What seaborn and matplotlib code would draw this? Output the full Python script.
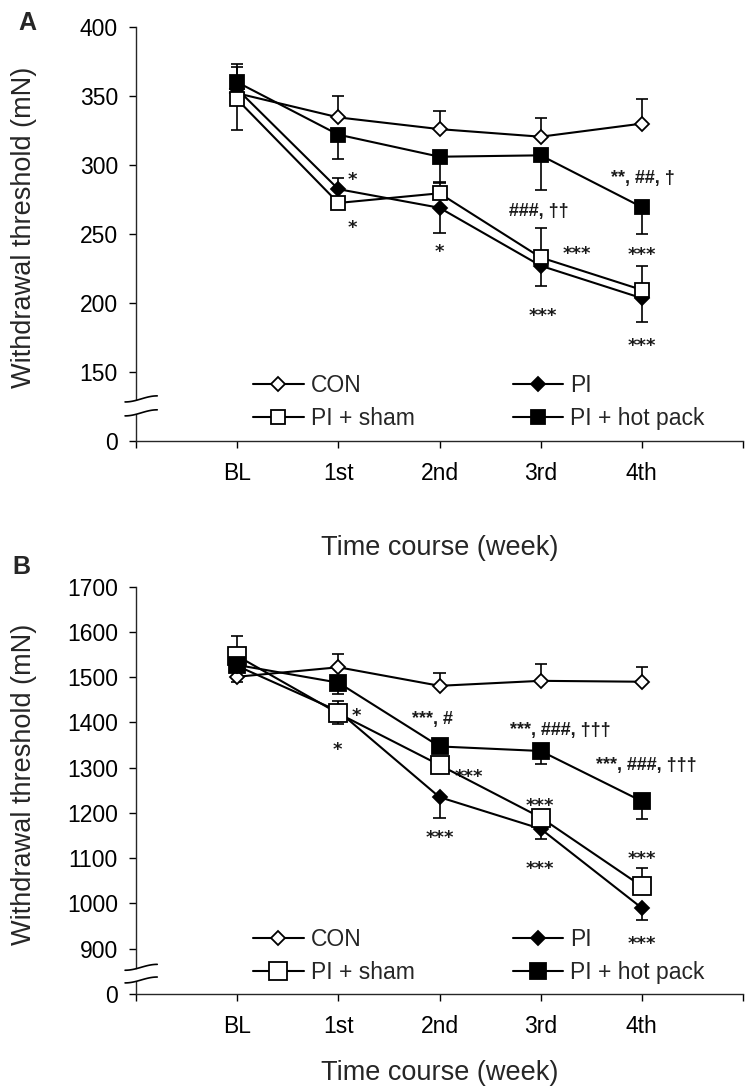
import numpy as np
import matplotlib
matplotlib.use("Agg")
import matplotlib.pyplot as plt
import matplotlib.transforms as mtransforms
import seaborn as sns

# ---------------- data ----------------
weeks = ["BL", "1st", "2nd", "3rd", "4th"]
groups = ["CON", "PI", "PI + sham", "PI + hot pack"]

# Panel A (mN)
a_con = [352, 334.5, 326, 320.5, 330]
a_pi = [355, 282.5, 269, 227, 203.5]
a_sham = [347.5, 272.5, 279.5, 233, 209.5]
a_hot = [360, 322, 306, 307, 269.5]
a_con_lo = [0, 0, 0, 0, 0]
a_con_up = [0, 15.5, 13, 13.5, 18]
a_pi_lo = [0, 0, 18, 14.5, 17]
a_pi_up = [16, 8, 0, 0, 0]
a_sham_lo = [22.5, 0, 0, 0, 0]
a_sham_up = [0, 0, 8, 21, 17.5]
a_hot_lo = [0, 17.5, 19, 25, 19.5]
a_hot_up = [13.5, 0, 0, 0, 0]
a_yticks = [150, 200, 250, 300, 350, 400]
a_ann_text = ["*", "*", "*", "###, \u2020\u2020", "***", "***", "**, ##, \u2020", "***", "***"]
a_ann_x = [2.14, 2.14, 3.0, 3.98, 4.36, 4.02, 5.01, 5.0, 5.0]
a_ann_y = [291.5, 256.6, 239, 267.5, 237.5, 193, 291.7, 237, 171]

# Panel B (mN)
b_con = [1501, 1522, 1481, 1492, 1490]
b_pi = [1525, 1425, 1235, 1165, 990]
b_sham = [1547, 1420, 1306, 1190, 1038]
b_hot = [1527, 1488, 1347, 1337, 1226]
b_con_lo = [11, 0, 0, 0, 0]
b_con_up = [0, 29, 29, 37, 33]
b_pi_lo = [0, 29, 45, 23.5, 26]
b_pi_up = [0, 0, 0, 0, 0]
b_sham_lo = [0, 0, 0, 0, 0]
b_sham_up = [44, 27, 0, 0, 40]
b_hot_lo = [0, 26, 0, 29, 40]
b_hot_up = [0, 0, 0, 0, 0]
b_yticks = [900, 1000, 1100, 1200, 1300, 1400, 1500, 1600, 1700]
b_ann_text = ["*", "*", "***, #", "***, ###, \u2020\u2020\u2020", "***, ###, \u2020\u2020\u2020",
              "***", "***", "***", "***", "***", "***"]
b_ann_x = [2.18, 1.99, 2.93, 4.19, 5.04, 3.29, 3.0, 3.99, 3.99, 5.0, 5.0]
b_ann_y = [1420, 1346, 1412, 1387, 1309, 1287, 1152, 1221, 1082, 1105, 918]

# ---------------- style ----------------
sns.set_style("ticks")
plt.rcParams["font.family"] = ["Liberation Sans", "DejaVu Sans"]
plt.rcParams["axes.linewidth"] = 1.0

TICK_FS = 16.5
LABEL_FS = 19.5
LEG_FS = 16.5
ANN_FS = 13

fig = plt.figure(figsize=(7.45, 10.89), dpi=100)
W, H = 745, 1089


def add_axes(top_px, bottom_px):
    left, right = 136, 743
    return fig.add_axes([left / W, 1 - bottom_px / H, (right - left) / W, (bottom_px - top_px) / H])


axA = add_axes(27, 441)
axB = add_axes(586.7, 994)

xpos = np.arange(1, len(weeks) + 1)

styles = {
    "CON": dict(marker="D", mfc="white"),
    "PI": dict(marker="D", mfc="black"),
    "PI + sham": dict(marker="s", mfc="white"),
    "PI + hot pack": dict(marker="s", mfc="black"),
}


def draw_err(ax, y, lo, up, capw=0.06):
    y = np.asarray(y, float)
    for sign, e in ((-1, np.asarray(lo, float)), (1, np.asarray(up, float))):
        m = e > 0
        if not m.any():
            continue
        ends = y[m] + sign * e[m]
        ax.vlines(xpos[m], y[m], ends, color="black", lw=1.2, zorder=2)
        ax.hlines(ends, xpos[m] - capw, xpos[m] + capw, color="black", lw=1.2, zorder=2)


def panel(ax, series, errs, sizes, yticks, zero_pos, ylim, brk, ann, xlabel_y):
    for g, vals, (lo, up) in zip(groups, series, errs):
        draw_err(ax, vals, lo, up)
    for i, (g, vals) in enumerate(zip(groups, series)):
        st = styles[g]
        sns.lineplot(x=xpos, y=vals, ax=ax, color="black", lw=1.5,
                     marker=st["marker"], markersize=sizes[g], markerfacecolor=st["mfc"],
                     markeredgecolor="black", markeredgewidth=1.3, label=g,
                     zorder=3 + i)
    ax.set_xlim(0, 6)
    ax.set_ylim(*ylim)
    ax.set_xticks(np.arange(0, 7))
    ax.set_xticklabels([""] + weeks + [""])
    ax.set_yticks([zero_pos] + yticks)
    ax.set_yticklabels(["0"] + [str(t) for t in yticks])
    ax.tick_params(axis="both", direction="out", length=5, width=1.0, labelsize=TICK_FS,
                   colors="black")
    ax.tick_params(axis="x", pad=10)
    ax.tick_params(axis="y", pad=8)
    sns.despine(ax=ax)
    ax.set_xlabel("Time course (week)", fontsize=LABEL_FS)
    ax.xaxis.set_label_coords(0.5, xlabel_y)
    ax.xaxis.label.set_va("center")
    ax.set_ylabel("Withdrawal threshold (mN)", fontsize=LABEL_FS)
    ax.yaxis.set_label_coords(-0.185, 0.515)
    ax.yaxis.label.set_va("center")

    # legend
    h, l = ax.get_legend_handles_labels()
    order = [0, 2, 1, 3]
    ax.legend([h[k] for k in order], [l[k] for k in order], ncol=2, frameon=False,
              fontsize=LEG_FS, loc="center", bbox_to_anchor=(0.565, 0.094),
              handlelength=2.2, handletextpad=0.3, columnspacing=4.3,
              labelspacing=0.45, borderpad=0, borderaxespad=0)

    # significance annotations: pure-asterisk strings use a wider asterisk glyph
    for t, x, y in zip(*ann):
        only_stars = set(t) == {"*"}
        fam = "DejaVu Sans" if only_stars else "Liberation Sans"
        drop = 0.44 if only_stars else 0.36
        ax.annotate(t, (x, y), xytext=(0, -drop * ANN_FS), textcoords="offset points",
                    ha="center", va="baseline", fontsize=ANN_FS, fontweight="bold",
                    family=fam, color="#1a1a1a")

    # axis break marks
    y_hi, y_lo, amp = brk
    trans = mtransforms.blended_transform_factory(ax.transAxes, ax.transData)
    t = np.linspace(0, 1, 40)
    xs = -0.018 + t * 0.053
    wave = amp * np.sin(np.pi * (t - 0.5))
    ax.fill_between(xs, y_lo + wave, y_hi + wave, color="white", transform=trans,
                    clip_on=False, zorder=5, lw=0)
    for yy in (y_hi, y_lo):
        ax.plot(xs, yy + wave, color="black", lw=1.2, transform=trans, clip_on=False,
                zorder=6)


panel(axA, [a_con, a_pi, a_sham, a_hot],
      [(a_con_lo, a_con_up), (a_pi_lo, a_pi_up), (a_sham_lo, a_sham_up), (a_hot_lo, a_hot_up)],
      {"CON": 7, "PI": 7, "PI + sham": 10, "PI + hot pack": 10},
      a_yticks, 100, (100, 400), (130.5, 120.4, 2.2),
      (a_ann_text, a_ann_x, a_ann_y), -0.258)

panel(axB, [b_con, b_pi, b_sham, b_hot],
      [(b_con_lo, b_con_up), (b_pi_lo, b_pi_up), (b_sham_lo, b_sham_up), (b_hot_lo, b_hot_up)],
      {"CON": 7, "PI": 7, "PI + sham": 13.5, "PI + hot pack": 11},
      b_yticks, 800, (800, 1700), (859, 831, 6.5),
      (b_ann_text, b_ann_x, b_ann_y), -0.194)

fig.text(27.5 / W, 1 - 22.5 / H, "A", fontsize=18, fontweight="bold", ha="center", va="center")
fig.text(21.5 / W, 1 - 567 / H, "B", fontsize=18, fontweight="bold", ha="center", va="center")

fig.savefig("out.png", dpi=100)
